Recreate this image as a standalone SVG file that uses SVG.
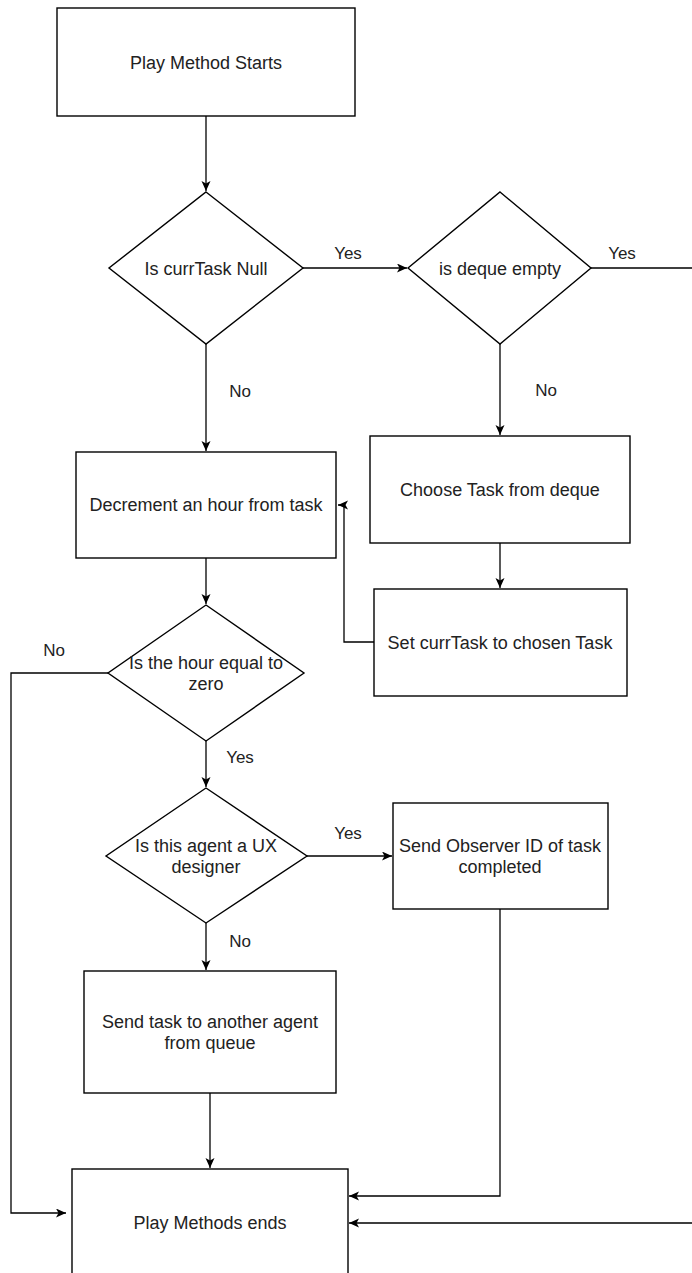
<svg xmlns="http://www.w3.org/2000/svg" width="692" height="1273" viewBox="0 0 692 1273">
<style>
.n{fill:#fff;stroke:#000;stroke-width:1.4}
.t{font-family:"Liberation Sans",Arial,sans-serif;font-size:18px;fill:#222;text-anchor:middle}
.l{font-family:"Liberation Sans",Arial,sans-serif;font-size:17px;fill:#222;text-anchor:middle}
.c{fill:none;stroke:#000;stroke-width:1.3}
</style>
<defs>
<marker id="a" markerUnits="userSpaceOnUse" markerWidth="11" markerHeight="10" refX="10" refY="4.5" orient="auto">
<path d="M0,0 L10,4.5 L0,9 L2.5,4.5 z" fill="#000"/>
</marker>
</defs>
<rect width="692" height="1273" fill="#fff"/>
<g id="connectors">
<path class="c" d="M206,116 V191" marker-end="url(#a)"/>
<path class="c" d="M303,268 H407" marker-end="url(#a)"/>
<path class="c" d="M591,268 H710 V1223 H349" marker-end="url(#a)"/>
<path class="c" d="M206,344 V451" marker-end="url(#a)"/>
<path class="c" d="M500,344 V435" marker-end="url(#a)"/>
<path class="c" d="M500,543 V588" marker-end="url(#a)"/>
<path class="c" d="M374,642 H344 V505 H338" marker-end="url(#a)"/>
<path class="c" d="M206,558 V604" marker-end="url(#a)"/>
<path class="c" d="M108,673 H11 V1213 H66" marker-end="url(#a)"/>
<path class="c" d="M206,741 V787" marker-end="url(#a)"/>
<path class="c" d="M307,856 H392" marker-end="url(#a)"/>
<path class="c" d="M500,909 V1196 H349" marker-end="url(#a)"/>
<path class="c" d="M206,923 V970" marker-end="url(#a)"/>
<path class="c" d="M210,1093 V1168" marker-end="url(#a)"/>
<text class="l" x="348" y="259">Yes</text>
<text class="l" x="622" y="259">Yes</text>
<text class="l" x="240" y="397">No</text>
<text class="l" x="546" y="396">No</text>
<text class="l" x="54" y="656">No</text>
<text class="l" x="240" y="763">Yes</text>
<text class="l" x="348" y="839">Yes</text>
<text class="l" x="240" y="947">No</text>
</g>
<g id="start">
<rect class="n" x="57" y="8" width="298" height="108"/>
<text class="t" x="206" y="69">Play Method Starts</text>
</g>
<g id="isCurrTaskNull">
<path class="n" d="M206,192 L303,268 L206,344 L109,268 Z"/>
<text class="t" x="206" y="275">Is currTask Null</text>
</g>
<g id="isDequeEmpty">
<path class="n" d="M500,192 L591,268 L500,344 L408,268 Z"/>
<text class="t" x="500" y="275">is deque empty</text>
</g>
<g id="decrement">
<rect class="n" x="76" y="452" width="260" height="106"/>
<text class="t" x="206" y="511">Decrement an hour from task</text>
</g>
<g id="chooseTask">
<rect class="n" x="370" y="436" width="260" height="107"/>
<text class="t" x="500" y="496">Choose Task from deque</text>
</g>
<g id="setCurrTask">
<rect class="n" x="374" y="589" width="253" height="107"/>
<text class="t" x="500" y="649">Set currTask to chosen Task</text>
</g>
<g id="hourZero">
<path class="n" d="M206,605 L304,673 L206,741 L108,673 Z"/>
<text class="t" x="206" y="669">Is the hour equal to</text>
<text class="t" x="206" y="690">zero</text>
</g>
<g id="isUX">
<path class="n" d="M206,788 L307,856 L206,923 L106,856 Z"/>
<text class="t" x="206" y="852">Is this agent a UX</text>
<text class="t" x="206" y="873">designer</text>
</g>
<g id="sendObserver">
<rect class="n" x="393" y="803" width="215" height="106"/>
<text class="t" x="500" y="852">Send Observer ID of task</text>
<text class="t" x="500" y="873">completed</text>
</g>
<g id="sendTask">
<rect class="n" x="84" y="971" width="252" height="122"/>
<text class="t" x="210" y="1028">Send task to another agent</text>
<text class="t" x="210" y="1049">from queue</text>
</g>
<g id="end">
<rect class="n" x="72" y="1169" width="276" height="120"/>
<text class="t" x="210" y="1229">Play Methods ends</text>
</g>
</svg>
